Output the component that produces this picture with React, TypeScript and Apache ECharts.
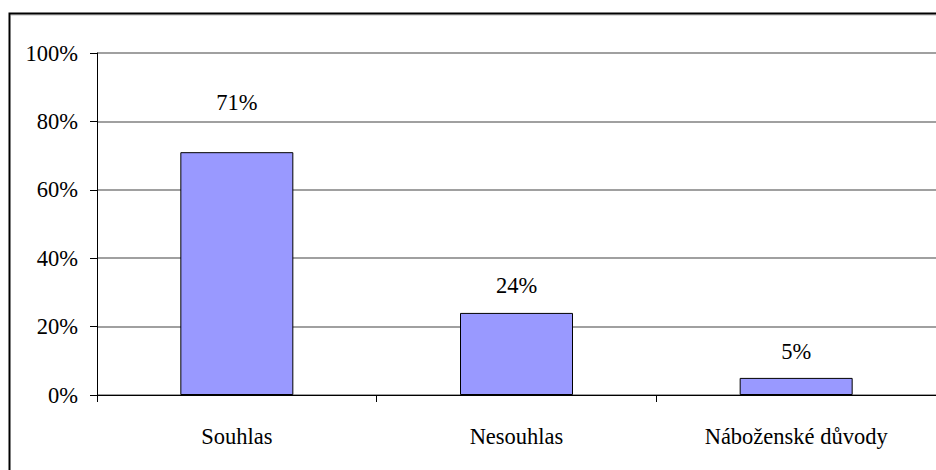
import React, { useEffect, useRef } from "react";
import * as echarts from "echarts";

// Survey answers and their shares (%)
const categories = ["Souhlas", "Nesouhlas", "Náboženské důvody"];
const values = [71, 24, 5];
// gap (px) between each bar top and its value label
const labelGaps = [38, 16, 15];
const yTicks = [0, 20, 40, 60, 80, 100];

const FONT = "Liberation Serif";
const FONT_SIZE = 22.5;

export default function App() {
  const ref = useRef<HTMLDivElement>(null);

  useEffect(() => {
    document.body.style.margin = "0";
    const chart = echarts.init(ref.current!, null, { renderer: "svg" });
    chart.setOption({
      animation: false,
      backgroundColor: "#ffffff",
      textStyle: { fontFamily: FONT },
      grid: { left: 97, top: 53, width: 842, height: 342, containLabel: false },
      xAxis: {
        type: "category",
        data: categories,
        axisLine: { lineStyle: { color: "#000", width: 1 } },
        axisTick: { show: true, length: 7, inside: false, alignWithLabel: false, lineStyle: { color: "#000" } },
        axisLabel: { color: "#000", fontFamily: FONT, fontSize: FONT_SIZE, margin: 30 },
        splitLine: { show: false },
      },
      yAxis: {
        type: "value",
        min: yTicks[0],
        max: yTicks[yTicks.length - 1],
        interval: 20,
        axisLine: { show: true, lineStyle: { color: "#000", width: 1 } },
        axisTick: { show: true, length: 7, lineStyle: { color: "#000" } },
        axisLabel: {
          color: "#000",
          fontFamily: FONT,
          fontSize: FONT_SIZE,
          margin: 19,
          formatter: (v: number) => `${v}%`,
        },
        splitLine: { show: true, lineStyle: { color: "#808080", width: 1.5 } },
      },
      series: [
        {
          type: "bar",
          barWidth: 113,
          data: values.map((v, i) => ({
            value: v,
            label: {
              show: true,
              position: "top",
              distance: labelGaps[i],
              formatter: `${v}%`,
              color: "#000",
              fontFamily: FONT,
              fontSize: FONT_SIZE,
            },
          })),
          itemStyle: { color: "#9999FF", borderColor: "#000", borderWidth: 1 },
        },
      ],
      graphic: [
        {
          type: "rect",
          silent: true,
          shape: { x: 9.5, y: 13.5, width: 960, height: 500 },
          style: { fill: "none", stroke: "#000", lineWidth: 2 },
          z: 100,
        },
        {
          type: "line",
          silent: true,
          shape: { x1: 11, y1: 15, x2: 936, y2: 15 },
          style: { stroke: "#bbbbbb", lineWidth: 1 },
          z: 99,
        },
      ],
    });
    return () => chart.dispose();
  }, []);

  return <div ref={ref} style={{ width: 936, height: 470 }} />;
}
